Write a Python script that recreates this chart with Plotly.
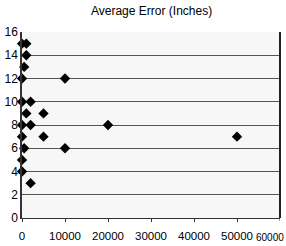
import plotly.graph_objects as go

x_vals = [0, 1000, 1000, 500, 0, 10000, 0, 2000, 1000, 5000, 0, 2000, 20000, 0, 5000, 50000, 500, 10000, 0, 0, 2000]
y_vals = [15, 15, 14, 13, 12, 12, 10, 10, 9, 9, 8, 8, 8, 7, 7, 7, 6, 6, 5, 4, 3]
x_ticks = [0, 10000, 20000, 30000, 40000, 50000, 60000]
x_ticklabels = ["0", "10000", "20000", "30000", "40000", "50000", "60000"]
y_ticks = [0, 2, 4, 6, 8, 10, 12, 14, 16]
title_text = "Average Error (Inches)"

fig = go.Figure()
fig.add_trace(go.Scatter(
    x=x_vals, y=y_vals, mode="markers",
    marker=dict(symbol="diamond", size=8, color="black"),
    cliponaxis=False,
))
fig.update_layout(
    width=286, height=246,
    margin=dict(l=22, r=6, t=32, b=28),
    paper_bgcolor="white", plot_bgcolor="#f7f7f7",
    showlegend=False,
    font=dict(family="Liberation Sans, Arial", size=12, color="black"),
    title=dict(text=title_text, x=0.53, xanchor="center", y=0.955, yanchor="middle",
               font=dict(size=12)),
)
fig.update_xaxes(range=[0, 60000], tickvals=x_ticks[:-1], ticktext=x_ticklabels[:-1],
                 showgrid=False, zeroline=False, showline=True, linecolor="#333", linewidth=1,
                 mirror=False, ticks="outside", ticklen=3, tickcolor="#333", automargin=False,
                 tickfont=dict(size=11.5), tickangle=0, ticklabelstandoff=4)
fig.add_shape(type="line", xref="x", yref="paper", x0=x_ticks[-1], x1=x_ticks[-1], y0=0, y1=-0.015,
              line=dict(color="#333", width=1))
fig.add_annotation(x=x_ticks[-1], xref="x", y=0, yref="paper", yshift=-19, xshift=6,
                   text=x_ticklabels[-1], showarrow=False, xanchor="right", yanchor="middle",
                   font=dict(size=10))
fig.update_yaxes(range=[0, 16], tickvals=y_ticks, automargin=False,
                 showgrid=True, gridcolor="#555", gridwidth=1, zeroline=False,
                 showline=True, linecolor="#333", linewidth=1.5, ticks="", ticklen=0,
                 tickfont=dict(size=12))
fig.add_shape(type="line", xref="paper", yref="paper", x0=1, x1=1, y0=0, y1=1,
              line=dict(color="#222", width=2))
fig.write_html("out.html")
